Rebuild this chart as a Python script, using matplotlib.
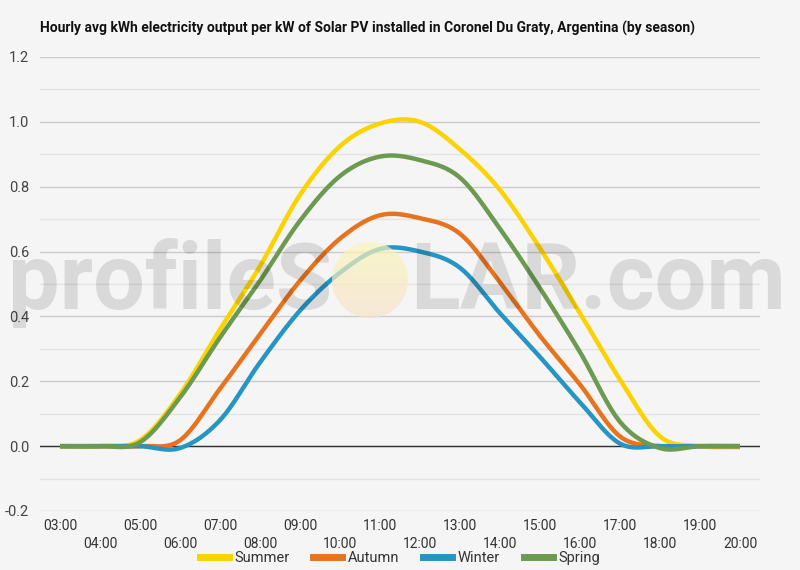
import numpy as np
import matplotlib
matplotlib.use("Agg")
import matplotlib.pyplot as plt
from matplotlib.patches import Ellipse
from matplotlib.lines import Line2D

plt.rcParams['font.family'] = ['Roboto', 'DejaVu Sans']

# hourly values
hours = ["03:00", "04:00", "05:00", "06:00", "07:00", "08:00", "09:00", "10:00", "11:00",
         "12:00", "13:00", "14:00", "15:00", "16:00", "17:00", "18:00", "19:00", "20:00"]
summer = [0, 0, 0.018, 0.16, 0.36, 0.555, 0.775, 0.925, 0.995,
          1.0, 0.915, 0.79, 0.61, 0.41, 0.205, 0.03, 0.0, -0.003]
autumn = [0, 0, 0, 0.018, 0.177, 0.345, 0.51, 0.64, 0.712,
          0.703, 0.655, 0.505, 0.34, 0.19, 0.03, 0, 0, 0]
winter = [0, 0, 0, -0.006, 0.08, 0.258, 0.418, 0.535, 0.608,
          0.60, 0.55, 0.41, 0.275, 0.135, 0.008, 0, 0, 0]
spring = [0, 0, 0.012, 0.15, 0.335, 0.51, 0.695, 0.833, 0.893,
          0.882, 0.828, 0.67, 0.487, 0.29, 0.075, -0.006, 0, 0]

series = [("Summer", summer, "#fcd200"),
          ("Autumn", autumn, "#e8731e"),
          ("Winter", winter, "#2795c4"),
          ("Spring", spring, "#6c9a50")]


# smooth curve through the points (catmull-rom), only for drawing
def smooth(y, n=20):
    y = np.asarray(y, dtype=float)
    p = np.concatenate([[y[0]], y, [y[-1]]])
    xs, ys = [], []
    for i in range(len(y) - 1):
        p0, p1, p2, p3 = p[i], p[i + 1], p[i + 2], p[i + 3]
        t = np.linspace(0, 1, n, endpoint=False)
        v = 0.5 * (2 * p1 + (-p0 + p2) * t + (2 * p0 - 5 * p1 + 4 * p2 - p3) * t ** 2
                   + (-p0 + 3 * p1 - 3 * p2 + p3) * t ** 3)
        xs.append(i + t)
        ys.append(v)
    xs.append([len(y) - 1])
    ys.append([y[-1]])
    return np.concatenate(xs), np.concatenate(ys)


W, H = 800, 570
bg = "#f5f5f5"
fig = plt.figure(figsize=(8, 5.7), dpi=100, facecolor=bg)
ax = fig.add_axes([40 / W, 1 - 511 / H, 720 / W, 454 / H], facecolor=bg)

x = np.arange(len(hours))
for name, vals, col in series:
    sx, sy = smooth(vals)
    ax.plot(sx, sy, color=col, lw=3.2, solid_capstyle='butt', zorder=3)

ax.set_xlim(-0.5, len(hours) - 0.5)
ax.set_ylim(-0.2, 1.2)
yt = np.arange(-0.2, 1.21, 0.2)
ax.set_yticks(yt)
ax.set_yticklabels(["%.1f" % v for v in yt])
ax.set_yticks(np.arange(-0.1, 1.2, 0.2), minor=True)
ax.grid(axis='y', which='major', color="#cccccc", lw=1.0, zorder=0)
ax.grid(axis='y', which='minor', color="#e4e4e4", lw=1.0, zorder=0)
ax.axhline(0, color="#333333", lw=1.0, zorder=2)
for s in ax.spines.values():
    s.set_visible(False)
ax.tick_params(axis='y', which='both', length=0, labelsize=10.5, labelcolor="#444444", pad=8)
ax.tick_params(axis='x', length=0, labelsize=10, labelcolor="#333333")

ax.set_xticks(x)
ax.set_xticklabels(hours)
for i, lab in enumerate(ax.get_xticklabels()):
    lab.set_y(-0.006 if i % 2 == 0 else -0.046)

fig.text(40 / W, 1 - 28 / H, "Hourly avg kWh electricity output per kW of Solar PV installed in Coronel Du Graty, Argentina (by season)",
         fontsize=10.0, fontweight='bold', color="#111111", va='center', ha='left')

# watermark
fig.text(332 / W, 1 - 309 / H, "profileS", fontsize=66, fontweight='bold', color="black",
         alpha=0.115, ha='right', va='baseline', zorder=10)
fig.text(410 / W, 1 - 309 / H, "LAR.com", fontsize=66, fontweight='bold', color="black",
         alpha=0.115, ha='left', va='baseline', zorder=10)
ov = fig.add_axes([0, 0, 1, 1], facecolor='none', zorder=10)
ov.set_xlim(0, W)
ov.set_ylim(H, 0)
ov.axis('off')
grad = np.linspace(0, 1, 100)[:, None] * np.ones((1, 10))
cmap = matplotlib.colors.LinearSegmentedColormap.from_list("sun", ["#fbf6b8", "#f7e2cc"])
img = ov.imshow(grad, extent=(332, 408, 318, 242), cmap=cmap, aspect='auto', alpha=0.7)
sun = Ellipse((370, 280), 76, 76, facecolor='none', edgecolor='none')
ov.add_patch(sun)
img.set_clip_path(sun)

handles = [Line2D([0], [0], color=c, lw=5) for _, _, c in series]
fig.legend(handles, [n for n, _, _ in series], loc='center', bbox_to_anchor=(0.5, 1 - 558 / H),
           ncol=4, frameon=False, fontsize=10.5, handlelength=2.0, handletextpad=0.4,
           columnspacing=1.6, labelcolor="#333333")

fig.savefig("out.png", dpi=100, facecolor=bg)
